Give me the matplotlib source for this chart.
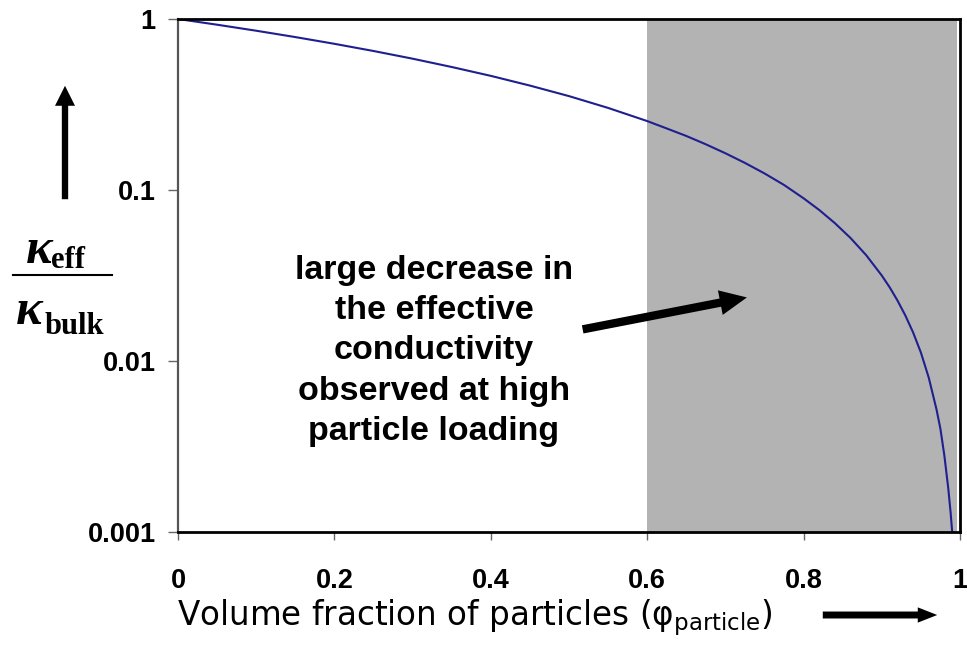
import matplotlib.pyplot as plt

# curve
phi = [0, 0.05, 0.1, 0.15, 0.2, 0.25, 0.3, 0.35, 0.4, 0.45, 0.5, 0.55, 0.6,
       0.625, 0.65, 0.675, 0.7, 0.725, 0.75, 0.775, 0.8, 0.82, 0.84, 0.86, 0.88,
       0.9, 0.91, 0.92, 0.93, 0.94, 0.95, 0.96, 0.97, 0.975, 0.98, 0.985, 0.988, 0.99]
k_ratio = [1.0, 0.926, 0.854, 0.784, 0.716, 0.650, 0.586, 0.524, 0.465, 0.408,
           0.354, 0.302, 0.253, 0.229, 0.207, 0.185, 0.164, 0.144, 0.125, 0.107,
           0.0894, 0.0764, 0.064, 0.0524, 0.0416, 0.0316, 0.027, 0.0226, 0.0185,
           0.0147, 0.0112, 0.0080, 0.0052, 0.0040, 0.0028, 0.0018, 0.0013, 0.0010]
gray_region = (0.6, 0.996)
x_ticks = [0, 0.2, 0.4, 0.6, 0.8, 1]
x_ticklabels = ['0', '0.2', '0.4', '0.6', '0.8', '1']
y_ticks = [0.001, 0.01, 0.1, 1]
y_ticklabels = ['0.001', '0.01', '0.1', '1']
note = 'large decrease in\nthe effective\nconductivity\nobserved at high\nparticle loading'
xlabel = r'Volume fraction of particles (φ$_{\mathrm{particle}}$)'

W, H = 967, 645
fig = plt.figure(figsize=(W / 100, H / 100), dpi=100)
ax = fig.add_axes([178 / W, (H - 532) / H, 782 / W, 513 / H])


def px(x, y):
    # pixel position (from top left) -> figure fraction
    return x / W, 1 - y / H


ax.axvspan(*gray_region, color='#b3b3b3', lw=0, zorder=0)
ax.plot(phi, k_ratio, color='#1f1f8f', lw=1.5, zorder=2)

ax.set_yscale('log')
ax.set_xlim(0, 1)
ax.set_ylim(0.001, 1)
ax.set_xticks(x_ticks)
ax.set_xticklabels(x_ticklabels)
ax.set_yticks(y_ticks)
ax.set_yticklabels(y_ticklabels)
ax.minorticks_off()
for lab in ax.get_xticklabels() + ax.get_yticklabels():
    lab.set_family('Liberation Sans')
    lab.set_fontweight('bold')
    lab.set_fontsize(19.5)
ax.tick_params(axis='y', length=7, width=1, color='#666666', pad=9)
ax.tick_params(axis='x', length=6, width=1, color='#666666', pad=20)

for side in ['top', 'bottom', 'right']:
    ax.spines[side].set_color('black')
    ax.spines[side].set_linewidth(2)
ax.spines['left'].set_color('#555555')
ax.spines['left'].set_linewidth(1.6)

# annotation text and arrow
fig.text(*px(434, 351), note, ha='center', va='center', multialignment='center',
         family='Liberation Sans', fontweight='bold', fontsize=24.5, linespacing=1.38)
ax.annotate('', xy=(0.731, 0.0237), xytext=(0.514, 0.0152),
            arrowprops=dict(arrowstyle='simple,head_width=1.2,head_length=1.3,tail_width=0.4',
                            mutation_scale=15, color='black', lw=0))

# x label and its arrow
fig.text(*px(177, 625), xlabel, ha='left', va='baseline', family='DejaVu Sans', fontsize=23.5)
ax.annotate('', xy=(940, H - 615), xytext=(820, H - 615),
            xycoords='figure pixels', textcoords='figure pixels',
            arrowprops=dict(arrowstyle='simple,head_width=1.1,head_length=1.4,tail_width=0.5',
                            mutation_scale=10, color='black', lw=0))

# y label: kappa_eff / kappa_bulk with an up arrow
ax.annotate('', xy=(65, H - 83), xytext=(65, H - 202),
            xycoords='figure pixels', textcoords='figure pixels',
            arrowprops=dict(arrowstyle='simple,head_width=1.2,head_length=1.2,tail_width=0.38',
                            mutation_scale=12, color='black', lw=0))
serif = dict(family='Liberation Serif', fontweight='bold', color='black')
fig.text(*px(26, 263), 'κ', style='italic', fontsize=36, va='baseline', **serif)
fig.text(*px(51, 268), 'eff', fontsize=22, va='baseline', **serif)
fig.add_artist(plt.Line2D([13 / W, 112 / W], [1 - 275 / H, 1 - 275 / H], color='black', lw=1.5))
fig.text(*px(16, 324), 'κ', style='italic', fontsize=36, va='baseline', **serif)
fig.text(*px(45, 334), 'bulk', fontsize=22, va='baseline', **serif)

fig.savefig('out.png', dpi=100)
